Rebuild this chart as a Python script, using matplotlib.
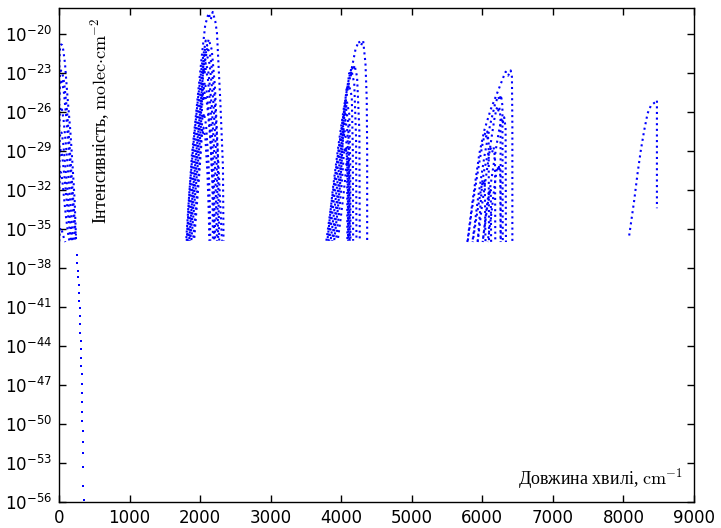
import numpy as np
import matplotlib.pyplot as plt
from matplotlib.ticker import NullLocator

# CO line intensities: wavenumber (cm^-1) and log10 of intensity for every band

# pure rotation, 0-0
rot_nu = [
    [3.8, 7.7, 11.5, 19, 30, 45, 60, 85, 120, 160, 190, 222, 240],
    [3.8, 11.5, 27, 45, 75, 115, 150, 185, 215, 245],
    [3.8, 11.5, 25, 42, 70, 110, 145, 175, 205, 232],
    [3.8, 11.5, 23, 40, 65, 100, 130, 160, 185, 205],
    [3.8, 11, 22, 38, 60, 90, 120, 145, 170, 190],
    [3.8, 10, 20, 35, 55, 85, 110, 135, 155, 175],
    [3.8, 10, 20, 33, 50, 75, 100, 125, 150],
    [3.8, 10, 20, 35, 55, 75, 90],
]
rot_lg = [
    [-23.0, -21.9, -21.3, -20.9, -20.8, -20.85, -21.2, -22.25, -24.8, -27.4, -29.9, -32.8, -35.5],
    [-24.8, -23.3, -22.8, -22.9, -23.8, -26.0, -28.6, -31.4, -33.8, -36.0],
    [-25.5, -24.0, -23.5, -23.6, -24.5, -26.8, -29.3, -31.8, -34.0, -36.0],
    [-27.5, -26.1, -25.6, -25.7, -26.6, -28.6, -30.7, -32.9, -34.7, -36.0],
    [-29.3, -28.0, -27.5, -27.6, -28.4, -30.2, -32.0, -33.7, -35.0, -36.0],
    [-30.6, -29.4, -28.9, -29.0, -29.8, -31.4, -32.9, -34.3, -35.3, -36.0],
    [-32.2, -31.1, -30.6, -30.7, -31.4, -32.8, -34.1, -35.2, -36.0],
    [-36.0, -35.2, -34.9, -35.0, -35.4, -35.8, -36.0],
]

# high-J rotational lines, drawn as single points
tail_nu = [250, 257, 264, 271, 277, 283, 288, 293, 297, 301, 305, 308, 311, 314,
           317, 320, 323, 326, 328, 330, 332, 334, 336, 338, 341, 345, 349]
tail_lg = [-37.0, -37.6, -38.2, -38.7, -39.3, -39.9, -40.5, -41.1, -41.7, -42.3,
           -43.0, -43.6, -44.25, -44.9, -45.5, -46.15, -46.9, -47.6, -48.3, -49.05,
           -49.75, -50.5, -51.4, -52.25, -53.3, -54.8, -55.85]

# fundamental, 1-0 and hot/isotopic bands
fund_nu = [
    [1817, 1836, 1884, 1931, 1978, 2026, 2073, 2120, 2151, 2179, 2215, 2239, 2286, 2324, 2332],
    [1803, 1850, 1910, 1970, 2030, 2080, 2101, 2122, 2165, 2210, 2250, 2271],
    [1810, 1860, 1920, 1980, 2035, 2070, 2087, 2105, 2150, 2200, 2260, 2310],
    [1831, 1880, 1935, 1990, 2035, 2060, 2075, 2090, 2135, 2185, 2235, 2257],
    [1845, 1890, 1945, 1995, 2030, 2050, 2066, 2080, 2120, 2165, 2215, 2239],
    [1850, 1895, 1950, 1995, 2030, 2048, 2062, 2076, 2110, 2150, 2195, 2215],
    [1860, 1905, 1955, 1995, 2025, 2040, 2054, 2066, 2100, 2140, 2175, 2182],
    [1875, 1915, 1960, 2000, 2025, 2038, 2050, 2062, 2100, 2145, 2185, 2200],
    [1900, 1935, 1975, 2005, 2025, 2035, 2045, 2055, 2085, 2120, 2140, 2144],
    [1915, 1945, 1980, 2005, 2022, 2030, 2040, 2048, 2075, 2105, 2125, 2130],
]
fund_lg = [
    [-35.9, -33.2, -29.3, -26.8, -24.2, -21.6, -19.3, -18.4, -18.9, -18.3, -19.0, -19.9, -25.1, -30.2, -35.9],
    [-35.9, -32.0, -28.2, -25.0, -22.2, -20.5, -20.9, -20.4, -21.2, -24.0, -29.0, -35.9],
    [-35.9, -32.0, -28.3, -25.2, -22.6, -21.1, -21.5, -21.0, -21.8, -24.5, -30.0, -35.9],
    [-35.9, -32.3, -28.8, -25.8, -23.2, -21.6, -22.0, -21.5, -22.3, -25.0, -30.0, -35.9],
    [-35.9, -32.6, -29.2, -26.3, -23.9, -22.3, -22.7, -22.2, -23.0, -25.5, -30.5, -35.9],
    [-35.9, -32.8, -29.5, -26.7, -24.2, -22.7, -23.1, -22.6, -23.4, -25.8, -30.7, -35.9],
    [-35.9, -33.0, -30.0, -27.4, -25.2, -23.8, -24.2, -23.7, -24.6, -27.3, -31.5, -35.9],
    [-35.9, -33.3, -30.5, -28.0, -25.9, -24.6, -25.0, -24.5, -25.4, -28.0, -32.0, -35.9],
    [-35.9, -33.6, -31.0, -28.8, -27.1, -26.2, -26.5, -26.1, -27.0, -30.0, -33.5, -35.9],
    [-35.9, -33.8, -31.4, -29.5, -28.1, -27.3, -27.6, -27.2, -28.0, -30.8, -34.0, -35.9],
]

# first overtone, 2-0
ov2_nu = [
    [3790, 3894, 3989, 4084, 4155, 4202, 4249, 4280, 4311, 4344, 4362, 4368, 4368],
    [3805, 3880, 3960, 4040, 4110, 4150, 4170, 4190, 4225, 4258, 4263],
    [3815, 3890, 3965, 4035, 4090, 4115, 4132, 4150, 4185, 4211, 4216],
    [3830, 3900, 3970, 4030, 4065, 4080, 4095, 4110, 4150, 4165, 4169],
    [3850, 3915, 3975, 4020, 4045, 4058, 4070, 4082, 4115, 4128, 4131],
    [3870, 3930, 3985, 4020, 4040, 4050, 4060, 4070, 4100, 4113, 4117],
    [3885, 3940, 3990, 4015, 4030, 4040, 4050, 4060, 4090, 4100, 4103],
    [3900, 3950, 3990, 4010, 4022, 4030, 4040, 4048, 4075, 4085, 4088],
    [3925, 3965, 4000, 4020, 4035, 4045, 4055, 4065, 4085, 4095, 4097],
    [3950, 3990, 4030, 4055, 4070, 4080, 4090, 4100, 4115, 4122],
]
ov2_lg = [
    [-35.9, -31.7, -27.9, -24.5, -22.5, -21.2, -20.55, -20.9, -20.5, -22.25, -25.0, -29.0, -35.9],
    [-35.9, -32.0, -28.6, -25.6, -23.4, -22.5, -22.8, -22.4, -23.3, -27.5, -35.9],
    [-35.9, -32.3, -29.0, -26.1, -24.0, -23.0, -23.3, -22.9, -23.8, -28.0, -35.9],
    [-35.9, -32.6, -29.4, -26.6, -24.8, -24.0, -24.3, -23.9, -24.8, -29.0, -35.9],
    [-35.9, -33.0, -30.0, -27.5, -26.0, -25.3, -25.6, -25.2, -26.2, -30.0, -35.9],
    [-35.9, -33.2, -30.4, -28.2, -26.6, -25.9, -26.2, -25.8, -26.8, -30.5, -35.9],
    [-35.9, -33.5, -30.9, -29.0, -27.4, -26.7, -27.0, -26.6, -27.6, -31.0, -35.9],
    [-35.9, -33.6, -31.2, -29.6, -28.2, -27.5, -27.8, -27.4, -28.4, -31.5, -35.9],
    [-35.9, -34.0, -32.0, -30.6, -29.4, -28.8, -29.1, -28.7, -29.6, -32.0, -35.9],
    [-35.9, -34.3, -32.5, -31.2, -30.2, -29.8, -30.0, -29.7, -31.0, -35.9],
]

# second overtone, 3-0
ov3_nu = [
    [5788, 5863, 5958, 6029, 6119, 6214, 6307, 6331, 6366, 6402, 6420, 6426, 6426],
    [5860, 5940, 6030, 6110, 6180, 6225, 6245, 6265, 6285, 6290],
    [5934, 6000, 6070, 6130, 6175, 6205, 6222, 6240, 6258, 6262],
    [6005, 6070, 6140, 6200, 6245, 6275, 6292, 6310, 6330, 6335],
    [5792, 5850, 5910, 5960, 6005, 6040, 6055, 6070, 6090, 6095],
    [5863, 5920, 5980, 6030, 6075, 6120, 6140, 6160, 6180, 6184],
    [6076, 6120, 6160, 6190, 6205, 6215, 6228, 6240, 6255, 6260],
    [5934, 5960, 5985, 6000, 6010, 6020, 6035, 6045],
    [6005, 6040, 6070, 6090, 6100, 6110, 6120, 6125],
]
ov3_lg = [
    [-36.0, -32.8, -29.2, -27.4, -25.8, -24.5, -23.2, -22.9, -23.2, -22.8, -23.3, -27.0, -36.0],
    [-36.0, -32.6, -29.4, -27.0, -25.4, -24.8, -25.1, -24.7, -25.5, -36.0],
    [-36.0, -33.0, -30.3, -28.0, -26.4, -25.7, -26.0, -25.6, -26.4, -36.0],
    [-36.0, -33.3, -30.8, -28.6, -27.2, -26.5, -26.8, -26.4, -27.2, -36.0],
    [-36.0, -33.6, -31.5, -29.8, -28.4, -27.6, -27.9, -27.5, -28.3, -36.0],
    [-36.0, -34.0, -32.0, -30.4, -29.3, -28.8, -29.1, -28.7, -29.5, -36.0],
    [-36.0, -34.2, -32.3, -31.0, -30.4, -30.2, -30.5, -30.1, -30.9, -36.0],
    [-36.0, -34.2, -32.4, -31.5, -31.3, -31.6, -31.2, -36.0],
    [-36.0, -34.4, -33.0, -32.2, -32.0, -32.3, -32.0, -36.0],
]

# third overtone, 4-0
ov4_nu = [
    [8082, 8153, 8201, 8248, 8295, 8343, 8390, 8437, 8460, 8475, 8475],
]
ov4_lg = [
    [-35.5, -32.8, -30.7, -28.9, -27.4, -26.1, -25.5, -25.3, -25.25, -25.1, -33.4],
]

xticks = list(range(0, 9001, 1000))
ytick_exp = list(range(-56, -19, 3))

plt.rcParams['mathtext.fontset'] = 'cm'
plt.rcParams['axes.unicode_minus'] = False

fig = plt.figure(figsize=(7.21, 5.28), dpi=100)
ax = fig.add_axes([0.0818, 0.0492, 0.8807, 0.9356])

for nus, lgs in [(rot_nu, rot_lg), (fund_nu, fund_lg), (ov2_nu, ov2_lg),
                 (ov3_nu, ov3_lg), (ov4_nu, ov4_lg)]:
    for i, (nu, lg) in enumerate(zip(nus, lgs)):
        # shift the dot phase so neighbouring bands don't line up
        ax.plot(nu, 10.0 ** np.array(lg), color='b', lw=1.5,
                ls=((i * 0.37) % 1.0 * 4.0, (1.0, 1.7)))

ax.plot(tail_nu, 10.0 ** np.array(tail_lg), ls='none', marker='s', ms=1.8,
        mew=0, color='b')

ax.set_yscale('log')
ax.set_xlim(0, 9000)
ax.set_ylim(10.0 ** -56, 10.0 ** -18)
ax.set_xticks(xticks)
ax.set_yticks(10.0 ** np.array(ytick_exp))
ax.yaxis.set_minor_locator(NullLocator())
ax.tick_params(direction='in', top=True, right=True, length=5, width=1,
               labelsize=12, pad=5)
for s in ax.spines.values():
    s.set_linewidth(1.0)

serif = ['Liberation Serif', 'DejaVu Serif']
ax.text(0.0646, 0.562, 'Інтенсивність, $\\mathrm{molec{\\cdot}cm^{-2}}$',
        transform=ax.transAxes, rotation=90, ha='center', va='bottom',
        fontsize=13, family=serif)
ax.text(0.9827, 0.0466, 'Довжина хвилі, $\\mathrm{cm^{-1}}$',
        transform=ax.transAxes, ha='right', va='center', fontsize=13,
        family=serif)

fig.savefig('out.png', dpi=100, facecolor='white')
